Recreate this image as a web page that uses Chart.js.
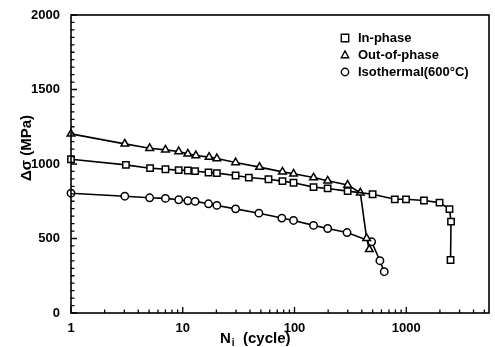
<!DOCTYPE html>
<html>
<head>
<meta charset="utf-8">
<script src="https://cdn.jsdelivr.net/npm/chart.js@4/dist/chart.umd.min.js"></script>
<style>
  body { margin: 0; background: #fff; }
  canvas { display: block; }
</style>
</head>
<body>
<canvas id="chart" width="495" height="347"></canvas>
<script>
// values (cycles, MPa)
const inPhaseN = [1, 3.1, 5.1, 7, 9.2, 11.1, 12.9, 17, 20.2, 29.7, 39, 58.5, 78, 98, 148, 198, 299, 500, 790, 995, 1440, 1985, 2436, 2515, 2490];
const inPhaseS = [1032, 994, 972, 965, 959, 956, 952, 943, 939, 923, 909, 898, 885, 874, 845, 836, 818, 797, 763, 763, 755, 741, 697, 613, 356];

const outPhaseN = [1, 3.03, 5.06, 7, 9.2, 11.1, 13.1, 17.2, 20.2, 29.7, 48.6, 78, 98, 148, 198, 299, 388, 442, 467];
const outPhaseS = [1202, 1135, 1106, 1095, 1084, 1068, 1057, 1046, 1037, 1010, 979, 947, 934, 909, 887, 859, 807, 501, 427];

const isoN = [1, 3.03, 5.06, 7, 9.2, 11.1, 12.9, 17, 20.2, 29.7, 48, 77, 98, 148, 198, 295, 490, 581, 635];
const isoS = [804, 784, 773, 769, 760, 753, 749, 733, 722, 699, 670, 637, 621, 588, 567, 540, 478, 351, 277];

const seriesNames = ["In-phase", "Out-of-phase", "Isothermal(600°C)"];
const seriesStyles = ["rect", "triangle", "circle"];
const xTickValues = [1, 10, 100, 1000];
const yTickValues = [0, 500, 1000, 1500, 2000];

const FONT = "'Liberation Sans', Arial, sans-serif";

function toPoints(xs, ys) {
  return xs.map((x, i) => ({ x: x, y: ys[i] }));
}

function makeDataset(label, xs, ys, style, radius) {
  return {
    label: label,
    data: toPoints(xs, ys),
    borderColor: "#000",
    borderWidth: 1.6,
    tension: 0,
    pointStyle: style,
    pointRadius: radius,
    pointBackgroundColor: "#fff",
    pointBorderColor: "#000",
    pointBorderWidth: 1.5,
    clip: false,
  };
}

function drawMarker(ctx, style, x, y, r) {
  ctx.beginPath();
  if (style === "rect") {
    ctx.rect(x - r, y - r, 2 * r, 2 * r);
  } else if (style === "triangle") {
    ctx.moveTo(x, y - r * 1.1);
    ctx.lineTo(x + r, y + r * 0.75);
    ctx.lineTo(x - r, y + r * 0.75);
    ctx.closePath();
  } else {
    ctx.arc(x, y, r, 0, Math.PI * 2);
  }
  ctx.fillStyle = "#fff";
  ctx.fill();
  ctx.stroke();
}

// frame, inward ticks, titles and legend
const decorations = {
  id: "decorations",
  afterDraw(chart) {
    const ctx = chart.ctx;
    const area = chart.chartArea;
    const xs = chart.scales.x;
    const ys = chart.scales.y;
    ctx.save();
    ctx.strokeStyle = "#000";
    ctx.lineWidth = 1.6;
    ctx.strokeRect(area.left, area.top, area.right - area.left, area.bottom - area.top);

    ctx.lineWidth = 1.3;
    ctx.beginPath();
    for (let d = 1; d <= 1000; d *= 10) {
      for (let m = 1; m <= 9; m++) {
        const v = d * m;
        if (v > xs.max) break;
        const px = xs.getPixelForValue(v);
        const len = m === 1 ? 6 : 3.5;
        ctx.moveTo(px, area.bottom);
        ctx.lineTo(px, area.bottom - len);
      }
    }
    for (let v = 0; v <= 2000; v += 50) {
      const py = ys.getPixelForValue(v);
      const len = v % 500 === 0 ? 6 : 3.5;
      ctx.moveTo(area.left, py);
      ctx.lineTo(area.left + len, py);
    }
    ctx.stroke();

    // axis titles
    ctx.fillStyle = "#000";
    ctx.font = "bold 15px " + FONT;
    ctx.textBaseline = "middle";
    ctx.save();
    ctx.translate(27, 148);
    ctx.rotate(-Math.PI / 2);
    ctx.textAlign = "center";
    ctx.fillText("Δσ (MPa)", 0, 0);
    ctx.restore();

    ctx.textAlign = "left";
    ctx.textBaseline = "alphabetic";
    let tx = 220;
    ctx.fillText("N", tx, 343);
    tx += ctx.measureText("N").width;
    ctx.font = "bold 10px " + FONT;
    ctx.fillText("i", tx + 1, 346);
    tx += ctx.measureText("i").width + 1;
    ctx.font = "bold 15px " + FONT;
    ctx.fillText("  (cycle)", tx, 343);

    // legend
    ctx.font = "bold 13px " + FONT;
    ctx.textBaseline = "middle";
    ctx.lineWidth = 1.4;
    const legendY = [38, 55, 72];
    seriesNames.forEach((name, i) => {
      drawMarker(ctx, seriesStyles[i], 345, legendY[i], 3.7);
      ctx.fillStyle = "#000";
      ctx.fillText(name, 358, legendY[i] + 0.5);
    });
    ctx.restore();
  },
};

new Chart(document.getElementById("chart"), {
  type: "line",
  data: {
    datasets: [
      makeDataset(seriesNames[0], inPhaseN, inPhaseS, "rect", 4.5),
      makeDataset(seriesNames[1], outPhaseN, outPhaseS, "triangle", 4.4),
      makeDataset(seriesNames[2], isoN, isoS, "circle", 3.7),
    ],
  },
  options: {
    responsive: false,
    animation: false,
    devicePixelRatio: 1,
    layout: { padding: { top: 15, right: 3, left: 0, bottom: 0 } },
    plugins: {
      legend: { display: false },
      tooltip: { enabled: false },
    },
    scales: {
      x: {
        type: "logarithmic",
        min: 1,
        max: 5500,
        afterBuildTicks: (scale) => {
          scale.ticks = xTickValues.map((v) => ({ value: v }));
        },
        afterFit: (scale) => { scale.height = 34; },
        grid: { display: false },
        border: { display: false },
        ticks: {
          autoSkip: false,
          maxRotation: 0,
          padding: 0,
          color: "#000",
          font: { family: FONT, size: 13, weight: "bold" },
          callback: (v) => String(v),
        },
      },
      y: {
        min: 0,
        max: 2000,
        afterBuildTicks: (scale) => {
          scale.ticks = yTickValues.map((v) => ({ value: v }));
        },
        afterFit: (scale) => { scale.width = 71; },
        grid: { display: false },
        border: { display: false },
        ticks: {
          padding: 3,
          color: "#000",
          font: { family: FONT, size: 13, weight: "bold" },
          callback: (v) => String(v),
        },
      },
    },
  },
  plugins: [decorations],
});
</script>
</body>
</html>
